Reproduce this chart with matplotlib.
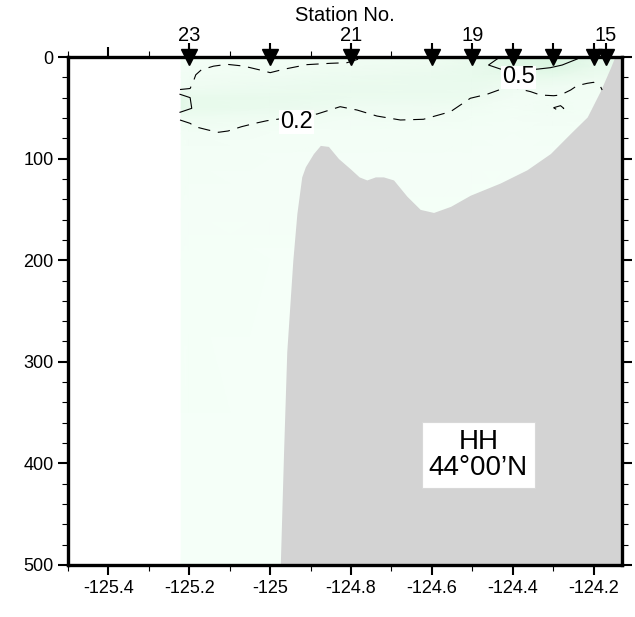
import numpy as np
import matplotlib
matplotlib.use('Agg')
import matplotlib.pyplot as plt
from matplotlib.colors import LinearSegmentedColormap

plt.rcParams['font.family'] = ['Liberation Sans', 'DejaVu Sans']

# stations along the line (longitude), only some are labelled
st_x = [-125.2, -125.0, -124.8, -124.6, -124.5, -124.4, -124.3, -124.2, -124.17]
st_lab = ['23', '', '21', '', '19', '', '', '', '15']

# gridded field (rough values read from the shading)
field_x = [-125.22, -125.2, -125.0, -124.8, -124.6, -124.5, -124.4, -124.3, -124.2, -124.13]
field_depth = [0, 10, 20, 30, 40, 50, 60, 75, 100, 150, 200, 500]
field_vals = [
    [0.12, 0.15, 0.18, 0.22, 0.50, 0.50, 0.22, 0.15, 0.12, 0.10, 0.08, 0.06],
    [0.12, 0.16, 0.20, 0.25, 0.40, 0.40, 0.28, 0.16, 0.12, 0.10, 0.08, 0.06],
    [0.15, 0.18, 0.25, 0.32, 0.38, 0.35, 0.22, 0.14, 0.10, 0.09, 0.07, 0.06],
    [0.20, 0.25, 0.32, 0.35, 0.33, 0.26, 0.17, 0.13, 0.10, 0.08, 0.07, 0.06],
    [0.25, 0.30, 0.35, 0.36, 0.33, 0.27, 0.19, 0.13, 0.10, 0.08, 0.07, 0.06],
    [0.35, 0.38, 0.38, 0.35, 0.30, 0.22, 0.15, 0.12, 0.10, 0.08, 0.07, 0.06],
    [0.55, 0.50, 0.40, 0.25, 0.16, 0.13, 0.12, 0.10, 0.09, 0.08, 0.07, 0.06],
    [0.60, 0.55, 0.38, 0.24, 0.19, 0.20, 0.16, 0.12, 0.10, 0.08, 0.07, 0.06],
    [0.45, 0.40, 0.30, 0.20, 0.16, 0.14, 0.12, 0.10, 0.09, 0.08, 0.07, 0.06],
    [0.45, 0.40, 0.30, 0.20, 0.16, 0.14, 0.12, 0.10, 0.09, 0.08, 0.07, 0.06],
]

# bottom topography
bathy_x = [-124.975, -124.967, -124.959, -124.944, -124.934, -124.922, -124.913, -124.893,
           -124.876, -124.856, -124.831, -124.802, -124.78, -124.761, -124.74, -124.72,
           -124.695, -124.662, -124.629, -124.596, -124.554, -124.505, -124.431, -124.365,
           -124.307, -124.257, -124.216, -124.183, -124.158, -124.148, -124.13]
bathy_d = [500, 390, 290, 200, 154, 118, 108, 95,
           87, 88, 100, 110, 118, 121, 118, 118,
           121, 137, 150, 153, 147, 136, 124, 111,
           95, 75, 59, 33, 10, 0, 0]

# 0.2 contour (dashed)
c02a_x = [-125.223, -125.198, -125.19, -125.184, -125.17, -125.14, -125.107, -125.066,
          -125.025, -125.0, -124.967, -124.909, -124.851, -124.81, -124.781, -124.772]
c02a_d = [32, 31, 24, 17.5, 12.5, 9, 7.2, 8.9, 12.8, 15.4, 12.1, 7.5, 6.2, 5.6, 2, 0]
c02b_x = [-125.223, -125.198, -125.186, -125.153, -125.128, -125.104, -125.071, -125.038,
          -125.008, -124.95, -124.884, -124.827, -124.785, -124.736, -124.678, -124.621,
          -124.554, -124.505, -124.464, -124.423, -124.398, -124.39, -124.356, -124.332,
          -124.299, -124.282, -124.257, -124.241, -124.216, -124.2, -124.183, -124.179]
c02b_d = [62, 65.3, 68.6, 71.9, 74.1, 72.8, 68.6, 65.3,
          62.7, 59.5, 56.1, 48.9, 52.2, 58.1, 62, 61.3,
          53.8, 40.6, 36.7, 30.8, 29.2, 30.8, 34.1, 37.4,
          38.1, 37.4, 32.5, 28.2, 25.9, 24.9, 29.2, 32.5]
c02c_x = [-124.299, -124.282, -124.274, -124.286, -124.299]
c02c_d = [49.9, 47.9, 50.5, 53.1, 49.9]

# 0.5 contour (solid)
c05a_x = [-125.223, -125.198, -125.194, -125.223]
c05a_d = [36.7, 40, 50.5, 54.4]
c05b_x = [-124.431, -124.439, -124.46, -124.431, -124.4, -124.37, -124.336, -124.307,
          -124.278, -124.241, -124.233]
c05b_d = [0, 2, 7.9, 11.8, 13, 13, 11.8, 10.5, 7.9, 2, 0]

xticks = [-125.4, -125.2, -125.0, -124.8, -124.6, -124.4, -124.2]
xtick_labels = ['-125.4', '-125.2', '-125', '-124.8', '-124.6', '-124.4', '-124.2']
yticks = [0, 100, 200, 300, 400, 500]

fig = plt.figure(figsize=(6.35, 6.17), dpi=100)
ax = fig.add_axes([0.1071, 0.0843, 0.8724, 0.8233])

cmap = LinearSegmentedColormap.from_list('mint', ['#f5fff8', '#effcf2', '#e3f8e8', '#cff2d8'])
X, Y = np.meshgrid(field_x, field_depth)
C = np.array(field_vals).T
ax.pcolormesh(X, Y, C, shading='gouraud', cmap=cmap, vmin=0.05, vmax=0.7, zorder=1)

ax.fill_between(bathy_x, bathy_d, 520, color='#d3d3d3', lw=0, zorder=2)

dash = dict(color='k', lw=0.8, dashes=(11, 7), zorder=3)
ax.plot(c02a_x, c02a_d, **dash)
ax.plot(c02b_x, c02b_d, **dash)
ax.plot(c02c_x, c02c_d, **dash)
ax.plot(c05a_x, c05a_d, color='k', lw=0.8, zorder=3)
ax.plot(c05b_x, c05b_d, color='k', lw=0.8, zorder=3)

box = dict(facecolor='white', edgecolor='none', pad=0.5)
ax.text(-124.935, 64, '0.2', fontsize=17, ha='center', va='center', bbox=box, zorder=4)
ax.text(-124.386, 20, '0.5', fontsize=17, ha='center', va='center', bbox=box, zorder=4)

ax.text(-124.485, 392, 'HH\n44°00’N', fontsize=20, ha='center', va='center',
        linespacing=1.0, zorder=5,
        bbox=dict(facecolor='white', edgecolor='#d8d8d8', lw=0.8, pad=5))

# station markers on top
ax.vlines(st_x, -14, 0, colors='k', lw=1.5, clip_on=False, zorder=6)
ax.plot(st_x, np.zeros(len(st_x)), 'v', ms=11.5, color='k', clip_on=False, zorder=7)
for x, lab in zip(st_x, st_lab):
    if lab:
        ax.text(x, -21, lab, fontsize=14.5, ha='center', va='center', clip_on=False)
ax.text(0.5, 1.082, 'Station No.', transform=ax.transAxes, fontsize=14.5,
        ha='center', va='center')

ax.set_xlim(-125.5, -124.13)
ax.set_ylim(500, 0)
ax.set_xticks(xticks)
ax.set_xticklabels(xtick_labels)
ax.set_xticks(np.arange(-125.5, -124.2, 0.2), minor=True)
ax.set_yticks(yticks)
ax.set_yticks(np.arange(0, 501, 20), minor=True)
ax.tick_params(which='both', direction='out', top=True, right=True, labelsize=13, pad=3)
ax.tick_params(which='major', length=7.5, width=1.5)
ax.tick_params(which='minor', length=4, width=0.8)
for s in ax.spines.values():
    s.set_linewidth(2.4)
    s.set_zorder(5)

fig.savefig('out.png', dpi=100)
